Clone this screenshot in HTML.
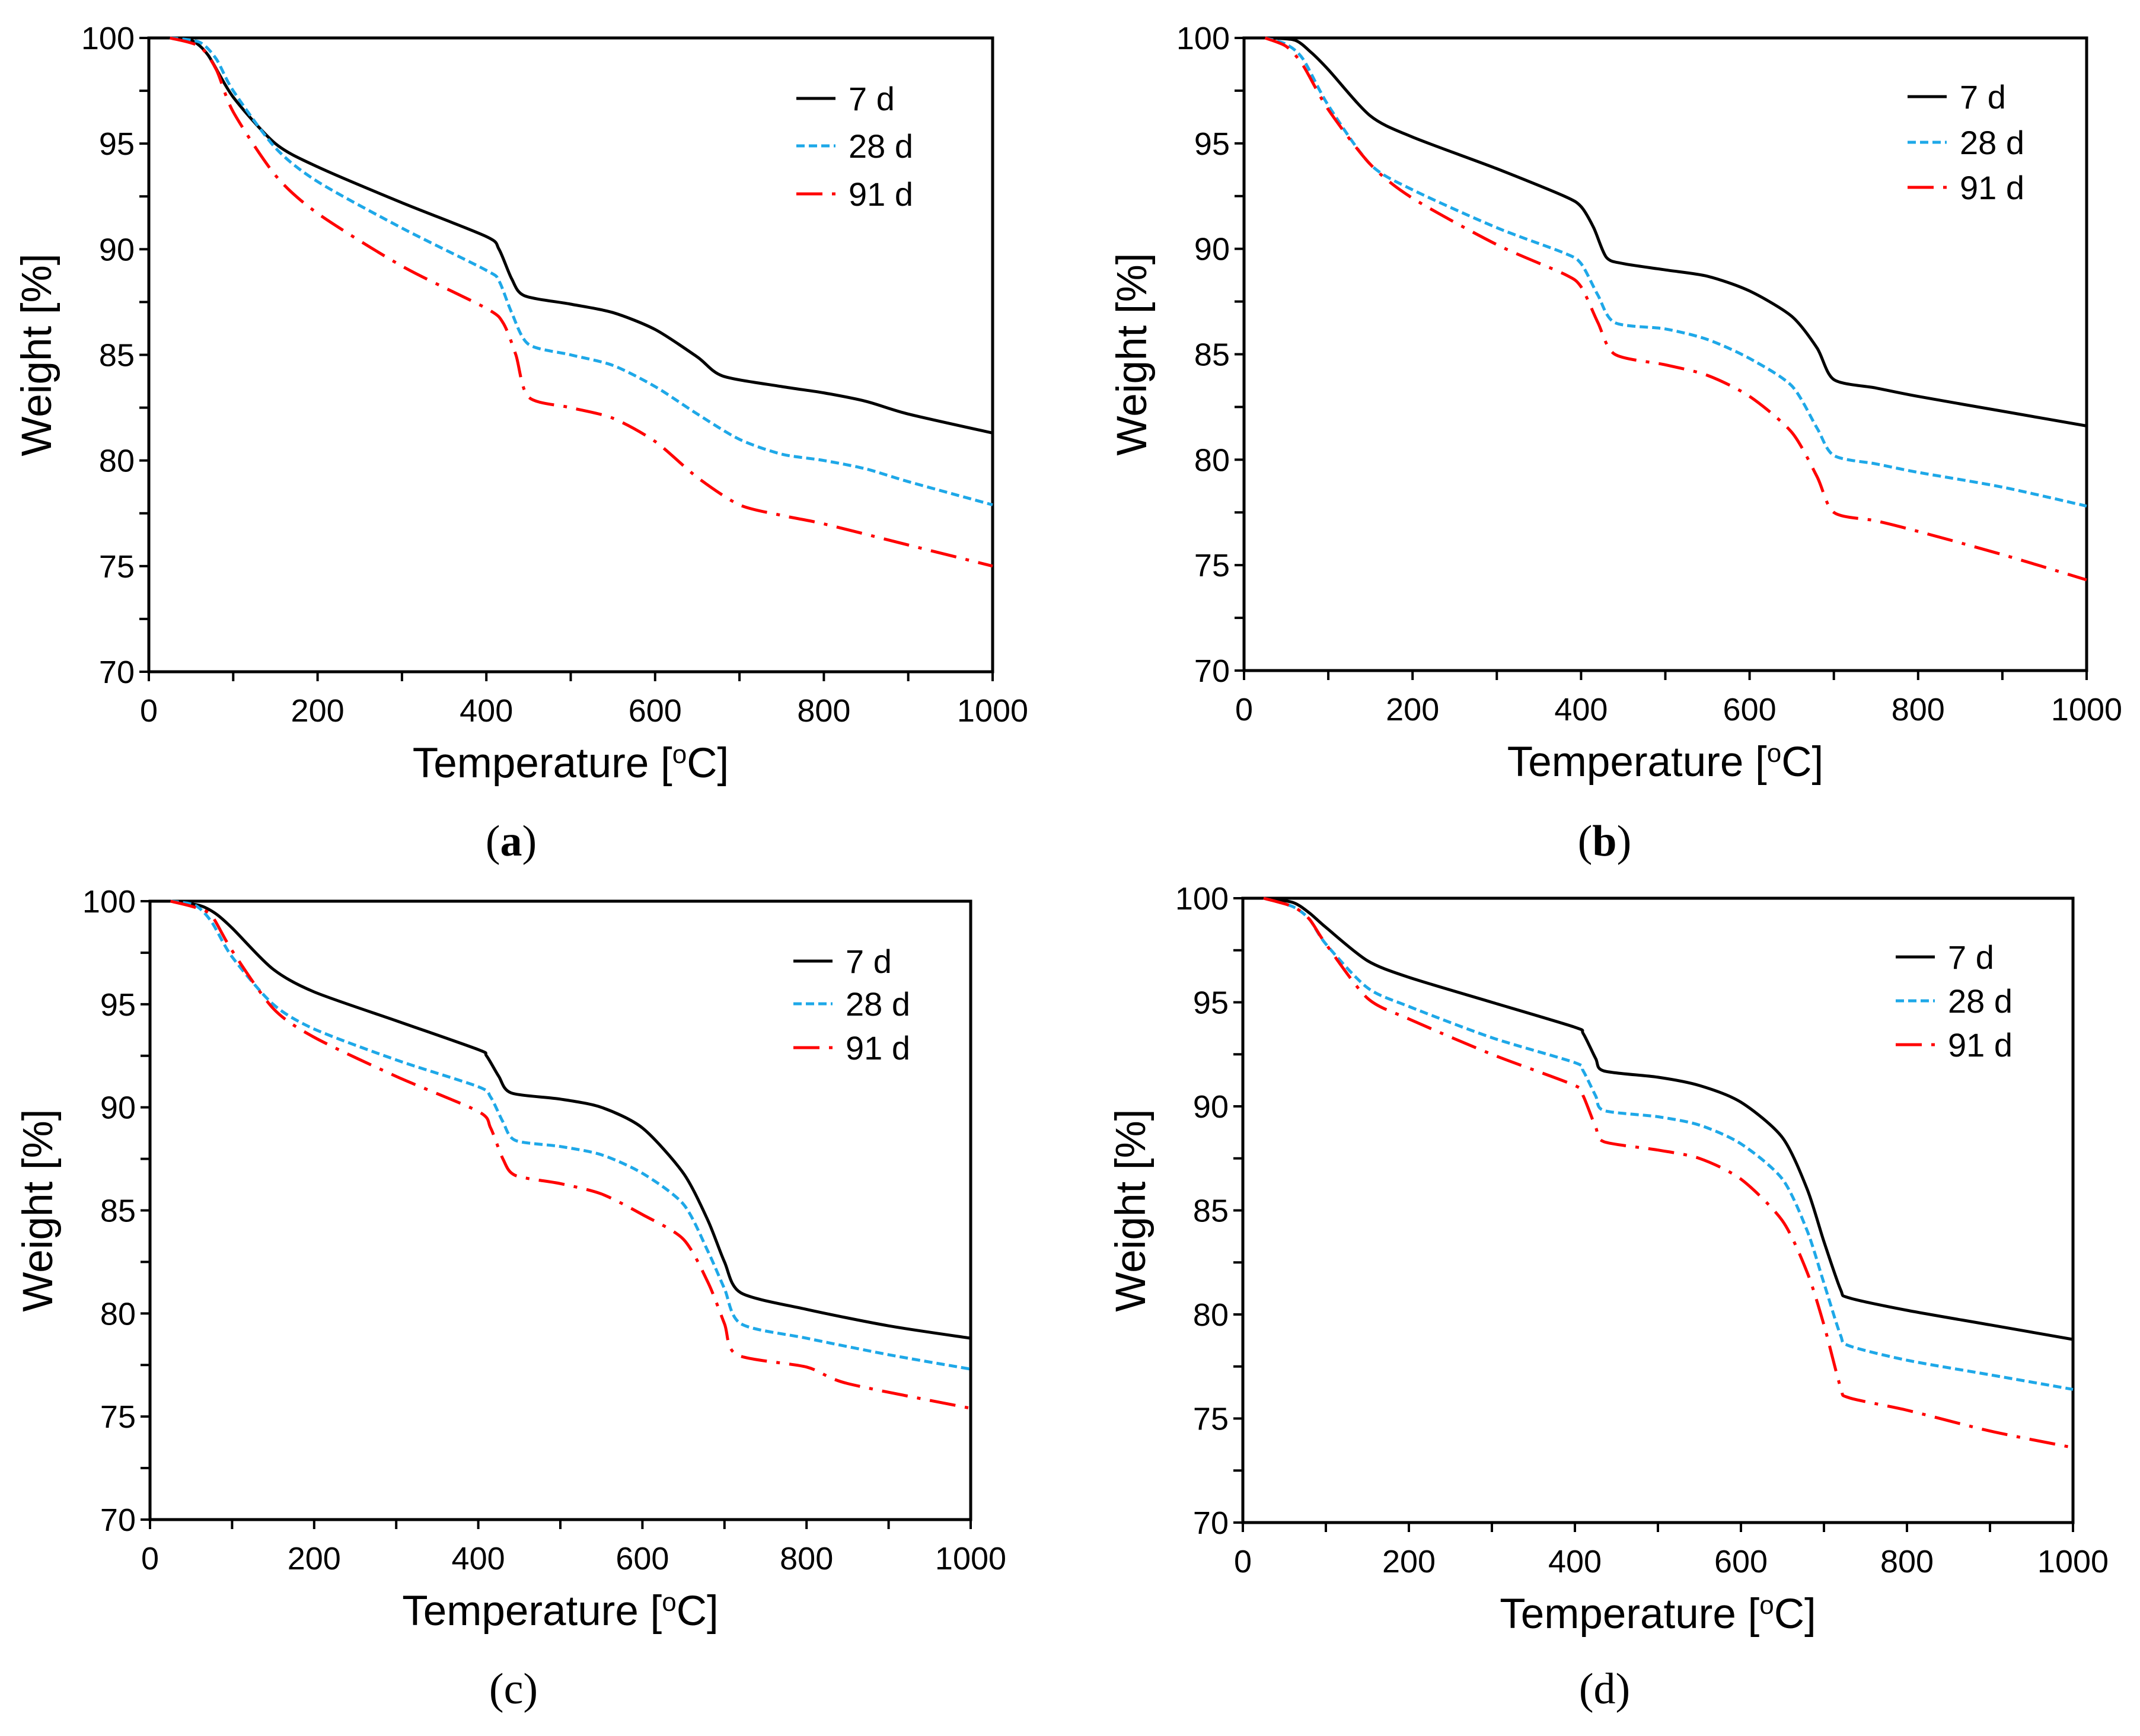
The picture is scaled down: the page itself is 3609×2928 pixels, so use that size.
<!DOCTYPE html>
<html><head><meta charset="utf-8"><style>
html,body{margin:0;padding:0;background:#fff;}
svg{display:block;}
text{font-family:"Liberation Sans",Arial,sans-serif;fill:#000;}
.cap{font-family:"Liberation Serif",serif;}
</style></head><body>
<svg id="fig" width="3609" height="2928" viewBox="0 0 3609 2928" xmlns="http://www.w3.org/2000/svg"></svg>
<script>
const temps_a7=[25,50,70,100,150,200,300,400,415,430,445,500,550,600,650,680,750,800,850,900,1000];
const wt_a7=[100,99.9,99.2,97.2,95,93.9,92.2,90.6,90,88.6,87.8,87.4,87,86.2,84.9,84,83.5,83.2,82.8,82.2,81.3];
const temps_a28=[25,60,80,100,150,200,300,400,415,430,450,500,550,600,650,700,750,800,850,900,1000];
const wt_a28=[100,99.8,99,97.5,94.8,93.2,91,89,88.5,87,85.5,85,84.5,83.5,82.2,81,80.3,80,79.6,79,77.9];
const temps_a91=[25,60,80,100,150,200,300,400,420,435,450,500,550,600,650,700,750,800,900,1000];
const wt_a91=[100,99.6,98.5,96.5,93.5,91.7,89.2,87.2,86.5,85,83,82.5,82,80.9,79.2,77.9,77.4,77,76,75];

const temps_b7=[25,60,80,100,150,200,300,380,400,415,430,450,500,550,600,650,680,700,750,800,900,1000];
const wt_b7=[100,99.9,99.3,98.5,96.3,95.3,93.8,92.5,92,91,89.6,89.3,89,88.7,88,86.8,85.3,83.8,83.4,83,82.3,81.6];
const temps_b28=[25,50,70,100,150,200,300,380,400,420,440,500,550,600,650,680,700,750,800,900,1000];
const wt_b28=[100,99.7,99,96.8,94,92.8,91,89.8,89.3,87.8,86.5,86.2,85.7,84.8,83.5,81.5,80.2,79.8,79.4,78.7,77.8];
const temps_b91=[25,50,70,100,150,200,300,380,400,420,440,500,550,600,650,680,700,750,800,900,1000];
const wt_b91=[100,99.6,98.7,96.6,94,92.4,90.2,88.8,88.2,86.5,85,84.5,84,83,81.3,79.2,77.5,77.1,76.6,75.5,74.3];

const temps_c7=[25,60,80,100,150,200,300,400,410,425,440,500,550,600,650,680,700,720,800,900,1000];
const wt_c7=[100,99.8,99.4,98.7,96.7,95.6,94.2,92.8,92.5,91.5,90.7,90.4,90,89,86.8,84.5,82.5,81,80.2,79.4,78.8];
const temps_c28=[25,55,75,100,150,200,300,400,415,430,445,500,550,600,650,680,700,720,800,900,1000];
const wt_c28=[100,99.8,99,97.3,95,93.8,92.3,91,90.5,89.3,88.4,88.1,87.7,86.8,85.3,83,81.2,79.5,78.8,78,77.3];
const temps_c91=[25,55,75,100,150,200,300,400,415,430,445,500,550,600,650,680,700,715,800,850,1000];
const wt_c91=[100,99.7,99.3,97.6,94.8,93.4,91.5,89.8,89,87.5,86.7,86.3,85.8,84.8,83.6,81.5,79.5,78,77.4,76.6,75.4];

const temps_d7=[25,60,80,100,150,200,300,400,410,425,435,500,550,600,650,680,700,720,730,800,900,1000];
const wt_d7=[100,99.8,99.3,98.6,97,96.2,95,93.8,93.5,92.3,91.7,91.4,91,90.2,88.5,86,83.5,81.2,80.8,80.2,79.5,78.8];
const temps_d28=[25,60,80,100,150,200,300,400,410,425,435,500,550,600,650,680,700,720,730,800,900,1000];
const wt_d28=[100,99.6,99,97.8,95.7,94.8,93.3,92.1,91.7,90.5,89.8,89.5,89.1,88.2,86.5,84,81.5,79,78.5,77.8,77.1,76.4];
const temps_d91=[25,60,80,100,150,200,300,400,410,425,435,500,550,600,650,680,700,720,730,800,900,1000];
const wt_d91=[100,99.6,99,97.8,95.2,94.2,92.5,91,90.5,89,88.3,87.9,87.5,86.5,84.5,82,79.5,76.5,76,75.4,74.4,73.6];

const xTicks=[0,200,400,600,800,1000];
const yTicks=[70,75,80,85,90,95,100];
const legendLabels=["7 d","28 d","91 d"];

const NS="http://www.w3.org/2000/svg";
const svg=document.getElementById('fig');
function mk(tag,attrs,parent){const e=document.createElementNS(NS,tag);for(const k in attrs)e.setAttribute(k,attrs[k]);(parent||svg).appendChild(e);return e;}
function smoothPath(P){
 let d='M'+P[0][0].toFixed(1)+','+P[0][1].toFixed(1);
 for(let i=0;i<P.length-1;i++){
  const p0=P[Math.max(0,i-1)],p1=P[i],p2=P[i+1],p3=P[Math.min(P.length-1,i+2)];
  const k=1/6*0.8;
  const c1=[p1[0]+(p2[0]-p0[0])*k,p1[1]+(p2[1]-p0[1])*k];
  const c2=[p2[0]-(p3[0]-p1[0])*k,p2[1]-(p3[1]-p1[1])*k];
  d+=' C'+c1[0].toFixed(1)+','+c1[1].toFixed(1)+' '+c2[0].toFixed(1)+','+c2[1].toFixed(1)+' '+p2[0].toFixed(1)+','+p2[1].toFixed(1);
 }
 return d;
}

const panels=[
 {id:'a',x0:251,x1:1674,yt:64,yb:1133,cap:'a',capx:862,capy:1443,bold:true,leg:{x:1343,ys:[166,246,327]},series:[[temps_a7,wt_a7],[temps_a28,wt_a28],[temps_a91,wt_a91]]},
 {id:'b',x0:2098,x1:3519,yt:64,yb:1131,cap:'b',capx:2706,capy:1443,bold:true,leg:{x:3217,ys:[163,240,316]},series:[[temps_b7,wt_b7],[temps_b28,wt_b28],[temps_b91,wt_b91]]},
 {id:'c',x0:253,x1:1637,yt:1520,yb:2563,cap:'c',capx:866,capy:2873,bold:false,leg:{x:1338,ys:[1621,1693,1767]},series:[[temps_c7,wt_c7],[temps_c28,wt_c28],[temps_c91,wt_c91]]},
 {id:'d',x0:2096,x1:3496,yt:1515,yb:2568,cap:'d',capx:2706,capy:2873,bold:false,leg:{x:3197,ys:[1614,1688,1762]},series:[[temps_d7,wt_d7],[temps_d28,wt_d28],[temps_d91,wt_d91]]}
];
const styles=[{c:'#000',d:''},{c:'#1ea8e8',d:'14 7'},{c:'#ff0000',d:'44 16 6 16'}];

panels.forEach(p=>{
 const g=mk('g',{});
 
 
 const X=t=>p.x0+(t/1000)*(p.x1-p.x0);
 const Y=w=>p.yb-(w-70)/30*(p.yb-p.yt);
 const frame=mk('rect',{x:p.x0,y:p.yt,width:p.x1-p.x0,height:p.yb-p.yt,fill:'none',stroke:'#000','stroke-width':5},g);
 
 
 for(let t=0;t<=1000;t+=100){mk('line',{x1:X(t),x2:X(t),y1:p.yb,y2:p.yb+16,stroke:'#000','stroke-width':4},g);}
 for(let w=70;w<=100;w+=2.5){mk('line',{x1:p.x0-16,x2:p.x0,y1:Y(w),y2:Y(w),stroke:'#000','stroke-width':4},g);}
 xTicks.forEach(t=>{const tx=mk('text',{x:X(t),y:p.yb+84,'font-size':54,'text-anchor':'middle'},g);tx.textContent=t;
  });
 yTicks.forEach(w=>{const tx=mk('text',{x:p.x0-24,y:Y(w)+19,'font-size':54,'text-anchor':'end'},g);tx.textContent=w;
  });
 const xt=mk('text',{x:(p.x0+p.x1)/2,y:p.yb+178,'font-size':71,'text-anchor':'middle'},g);
 xt.innerHTML='Temperature [<tspan baseline-shift="super" font-size="44">o</tspan>C]';
 
 const ycx=p.x0-165, ycy=(p.yt+p.yb)/2;
 const yt=mk('text',{x:ycx,y:ycy,'font-size':71,'text-anchor':'middle',transform:`rotate(-90 ${ycx} ${ycy})`},g);
 yt.textContent='Weight [%]';
 
 p.series.forEach((s,i)=>{
  const P=s[0].map((t,k)=>[X(t),Y(s[1][k])]);
  const pl=mk('path',{d:smoothPath(P),fill:'none',stroke:styles[i].c,'stroke-width':5,'stroke-linejoin':'round','stroke-dasharray':styles[i].d},g);
  
  
  const ly=p.leg.ys[i];
  const ll=mk('line',{x1:p.leg.x,x2:p.leg.x+66,y1:ly,y2:ly,stroke:styles[i].c,'stroke-width':5,'stroke-dasharray':styles[i].d},g);
  
  const lt=mk('text',{x:p.leg.x+88,y:ly+20,'font-size':56},g);lt.textContent=legendLabels[i];
  
 });
 const cp=mk('text',{x:p.capx,y:p.capy,'font-size':74,'text-anchor':'middle',class:'cap'},g);
 cp.innerHTML='(<tspan font-weight="'+(p.bold?'bold':'normal')+'">'+p.cap+'</tspan>)';
 
});
</script>
</body></html>
